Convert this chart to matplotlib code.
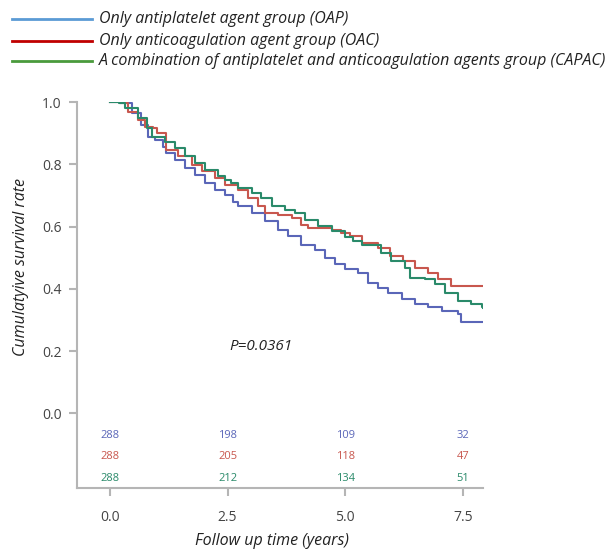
import matplotlib
matplotlib.use("Agg")
import matplotlib.pyplot as plt
from matplotlib.lines import Line2D

# ---- data ----
oap_t = [0.0, 0.21, 0.46, 0.67, 0.81, 0.96, 1.13, 1.2, 1.38, 1.59, 1.81, 2.02, 2.23, 2.44, 2.61,
         2.73, 3.01, 3.29, 3.58, 3.79, 4.07, 4.36, 4.57, 4.78, 4.99, 5.28, 5.49, 5.7, 5.91, 6.2,
         6.48, 6.76, 7.05, 7.4, 7.47, 7.93]
oap_s = [1.0, 0.996, 0.964, 0.926, 0.889, 0.878, 0.857, 0.836, 0.814, 0.788, 0.766, 0.74, 0.718, 0.702, 0.68,
         0.665, 0.644, 0.617, 0.59, 0.569, 0.542, 0.526, 0.5, 0.478, 0.462, 0.452, 0.42, 0.404, 0.388, 0.366,
         0.35, 0.34, 0.329, 0.318, 0.292, 0.292]

oac_t = [0.0, 0.21, 0.39, 0.6, 0.74, 0.92, 0.99, 1.2, 1.45, 1.74, 1.95, 2.23, 2.44, 2.73, 2.94,
         3.15, 3.29, 3.58, 3.86, 4.07, 4.21, 4.5, 4.71, 4.92, 5.1, 5.35, 5.7, 5.95, 6.23, 6.48,
         6.76, 6.98, 7.26, 7.93]
oac_s = [1.0, 0.996, 0.969, 0.942, 0.921, 0.916, 0.9, 0.846, 0.825, 0.798, 0.777, 0.756, 0.732, 0.718, 0.692,
         0.665, 0.644, 0.638, 0.628, 0.606, 0.596, 0.596, 0.59, 0.58, 0.569, 0.548, 0.532, 0.505, 0.489, 0.468,
         0.452, 0.43, 0.409, 0.409]

capac_t = [0.0, 0.2, 0.32, 0.6, 0.78, 0.89, 1.17, 1.38, 1.59, 1.81, 2.02, 2.3, 2.44, 2.58, 2.73,
           3.01, 3.22, 3.44, 3.72, 3.93, 4.14, 4.43, 4.71, 4.99, 5.17, 5.35, 5.77, 5.98, 6.27, 6.37,
           6.69, 6.9, 7.12, 7.4, 7.68, 7.9, 7.93]
capac_s = [1.0, 0.997, 0.98, 0.948, 0.916, 0.889, 0.873, 0.852, 0.825, 0.804, 0.782, 0.761, 0.748, 0.74, 0.724,
           0.708, 0.692, 0.665, 0.654, 0.644, 0.622, 0.601, 0.585, 0.567, 0.553, 0.542, 0.516, 0.489, 0.468, 0.436,
           0.43, 0.414, 0.388, 0.361, 0.35, 0.34, 0.338]

risk_times = [0.0, 2.5, 5.0, 7.5]
risk_oap = [288, 198, 109, 32]
risk_oac = [288, 205, 118, 47]
risk_capac = [288, 212, 134, 51]

labels = ["Only antiplatelet agent group (OAP)",
          "Only anticoagulation agent group (OAC)",
          "A combination of antiplatelet and anticoagulation agents group (CAPAC)"]
xticks = [0.0, 2.5, 5.0, 7.5]
xtick_labels = ["0.0", "2.5", "5.0", "7.5"]
yticks = [0.0, 0.2, 0.4, 0.6, 0.8, 1.0]
p_text = "P=0.0361"

# ---- styling ----
plt.rcParams['font.family'] = ['Open Sans', 'DejaVu Sans']
curve_colors = ["#5a66b8", "#c8574e", "#2a8a6a"]
legend_colors = ["#5b9bd5", "#c00000", "#4a9a3c"]

W, H = 608, 549
fig = plt.figure(figsize=(W / 100, H / 100), dpi=100)
ax = fig.add_axes([77 / W, (H - 488) / H, (483 - 77) / W, (488 - 102) / H])

for t, s, c in zip([oap_t, oac_t, capac_t], [oap_s, oac_s, capac_s], curve_colors):
    ax.plot(t, s, drawstyle='steps-post', color=c, lw=1.5)

for vals, yy, c in zip([risk_oap, risk_oac, risk_capac], [-0.07, -0.14, -0.21], curve_colors):
    for xt, v in zip(risk_times, vals):
        ax.text(xt, yy, str(v), color=c, fontsize=8, ha='center', va='center')

ax.text(3.2, 0.213, p_text, fontsize=11, style='italic', color='#222222',
        ha='center', va='center')

ax.set_xlim(-0.7, 7.93)
ax.set_ylim(-0.24, 1.0)
ax.set_xticks(xticks)
ax.set_xticklabels(xtick_labels)
ax.set_yticks(yticks)
ax.set_yticklabels([f"{v:.1f}" for v in yticks])

for side in ['top', 'right']:
    ax.spines[side].set_visible(False)
for side in ['left', 'bottom']:
    ax.spines[side].set_color('#b5b5b5')
    ax.spines[side].set_linewidth(1.5)
ax.tick_params(axis='both', colors='#b5b5b5', labelcolor='#444444', labelsize=10,
               length=6, width=1.5, direction='out')
ax.tick_params(axis='x', pad=10)
ax.tick_params(axis='y', pad=5)

ax.set_ylabel("Cumulatyive survival rate", fontsize=11.5, style='italic', color='#222222')
ax.yaxis.set_label_coords(-0.118, (488 - 267) / 386)
ax.set_xlabel("Follow up time (years)", fontsize=11.5, style='italic', color='#222222')
ax.xaxis.set_label_coords((272 - 77) / 406, -(541 - 488) / 386)
ax.xaxis.label.set_va('center')

# legend at top of figure
rows_y = [19, 41, 61]
for lab, c, yp in zip(labels, legend_colors, rows_y):
    fy = 1 - yp / H
    fig.add_artist(Line2D([12 / W, 92 / W], [fy, fy], color=c, lw=2, transform=fig.transFigure))
    fig.text(99 / W, fy, lab, fontsize=11.5, style='italic', color='#222222', va='center', ha='left')

fig.savefig("out.png", dpi=100)
